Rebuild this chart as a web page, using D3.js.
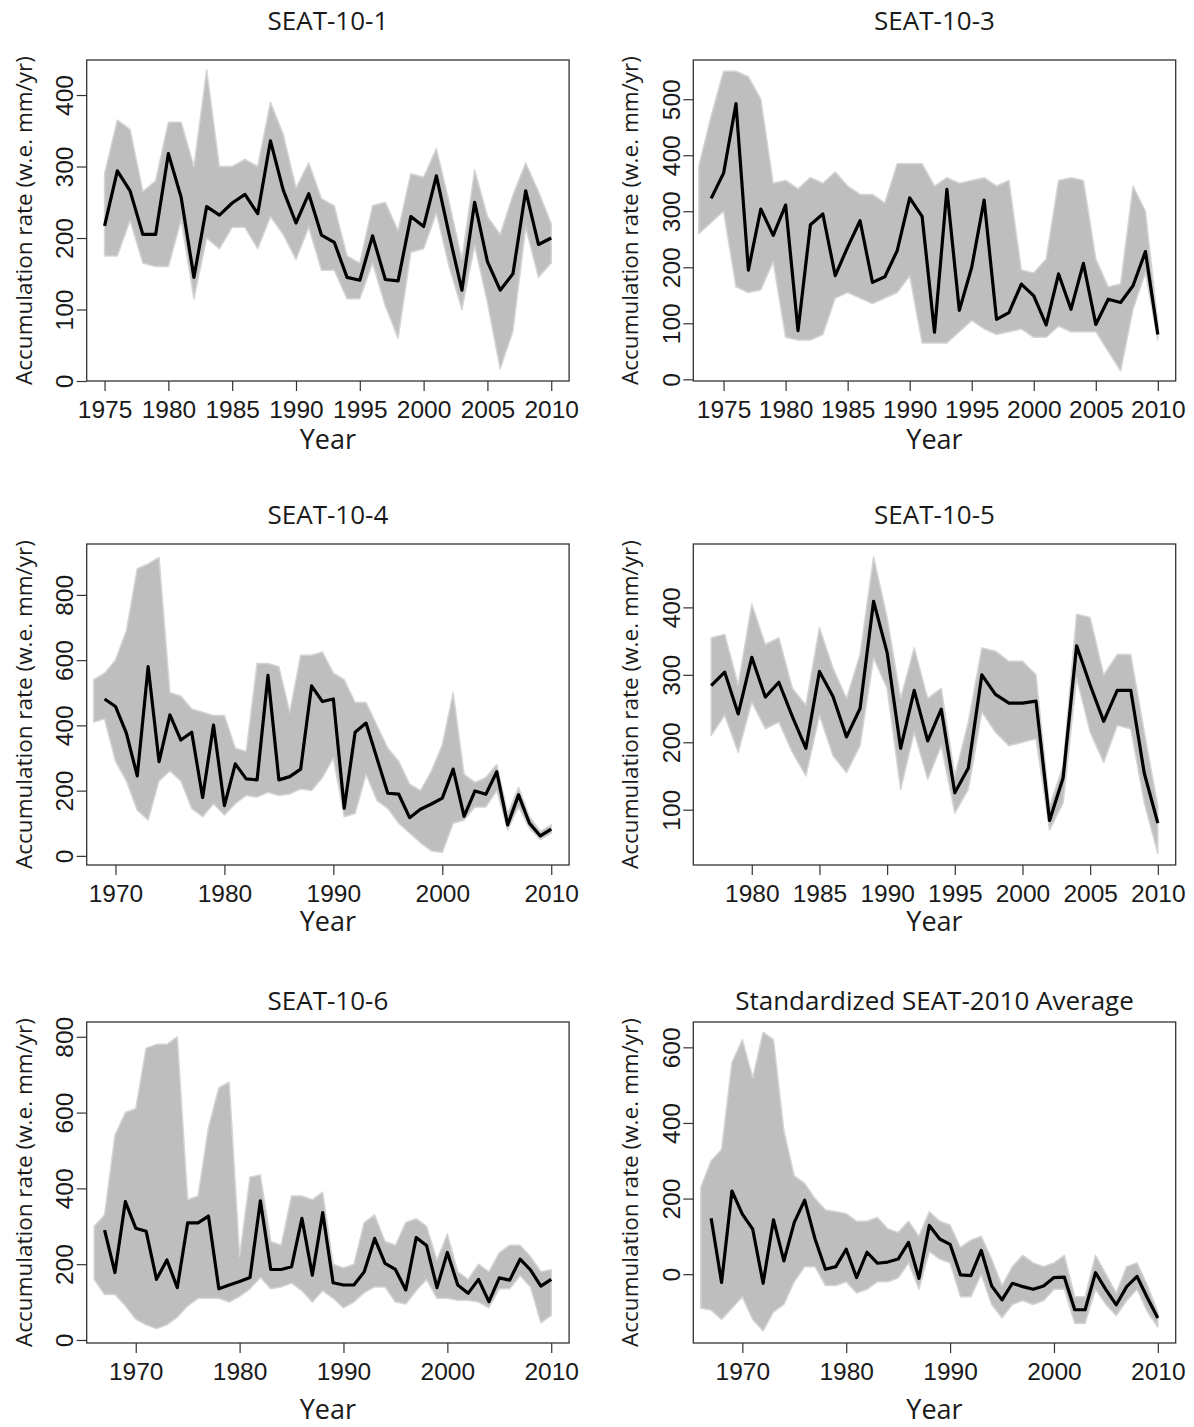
<!DOCTYPE html>
<html>
<head>
<meta charset="utf-8">
<script src="https://cdn.jsdelivr.net/npm/d3@7"></script>
<style>
  body { margin: 0; background: #fff; }
  svg { display: block; }
</style>
</head>
<body>
<svg id="chart" width="1194" height="1427"></svg>
<script>
// ---------------------------------------------------------------
// Accumulation-rate reconstructions, SEAT-2010 cores.
// Black line = ensemble mean; grey band = spread of the age-model
// ensemble (lower / upper envelope for each year).
// ---------------------------------------------------------------

const titles = ["SEAT-10-1", "SEAT-10-3", "SEAT-10-4", "SEAT-10-5", "SEAT-10-6",
                "Standardized SEAT-2010 Average"];

// first year of the mean series, first year of the ensemble envelope
const meanStart = [1975, 1974, 1969, 1977, 1967, 1967];
const bandStart = [1975, 1973, 1968, 1977, 1966, 1966];
const lastYear = 2010;

// SEAT-10-1
const seat1Mean = [217, 294, 266, 205, 205, 318, 257, 145, 244, 232, 249, 261, 234, 336, 267, 221,
                   262, 204, 194, 145, 141, 203, 142, 140, 230, 216, 287, 205, 127, 250, 167, 127,
                   150, 266, 191, 200];
const seat1Lo = [175, 175, 225, 165, 160, 160, 225, 115, 200, 185, 215, 215, 185, 230, 205, 170,
                 215, 155, 155, 115, 115, 165, 105, 60, 180, 185, 235, 160, 100, 190, 110, 17,
                 70, 215, 145, 165];
const seat1Hi = [290, 365, 352, 265, 280, 362, 362, 300, 435, 300, 300, 310, 300, 390, 345, 270,
                 305, 255, 245, 175, 165, 245, 250, 210, 290, 285, 325, 250, 170, 295, 230, 205,
                 260, 305, 265, 220];

// SEAT-10-3
const seat3Mean = [323, 368, 492, 195, 304, 257, 311, 87, 276, 295, 185, 236, 283, 173, 183, 230,
                   324, 291, 84, 339, 123, 200, 320, 107, 119, 170, 149, 97, 188, 125, 207, 98,
                   143, 137, 167, 228, 80];
const seat3Lo = [260, 280, 300, 165, 155, 160, 210, 75, 70, 70, 80, 145, 155, 145, 135, 145,
                 155, 185, 65, 65, 65, 85, 105, 90, 80, 85, 90, 75, 75, 95, 85, 85,
                 85, 50, 15, 125, 190, 70];
const seat3Hi = [380, 470, 550, 550, 540, 500, 350, 355, 340, 360, 350, 370, 345, 330, 330, 315,
                 385, 385, 385, 345, 360, 350, 355, 360, 345, 355, 195, 190, 215, 355, 360, 355,
                 215, 165, 170, 345, 300, 100];

// SEAT-10-4
const seat4Mean = [481, 458, 376, 245, 580, 289, 432, 355, 379, 179, 401, 154, 282, 236, 233, 553,
                   233, 243, 266, 521, 473, 481, 146, 379, 407, 299, 192, 189, 117, 143, 159, 177,
                   266, 121, 199, 189, 258, 95, 187, 100, 61, 82];
const seat4Lo = [410, 420, 290, 230, 140, 110, 230, 260, 230, 145, 120, 160, 125, 160, 185, 180,
                 195, 185, 190, 205, 200, 240, 300, 120, 130, 250, 170, 145, 100, 70, 40, 15,
                 10, 100, 110, 150, 150, 200, 80, 150, 85, 50, 70];
const seat4Hi = [540, 560, 600, 690, 880, 895, 915, 500, 490, 450, 440, 430, 430, 330, 320, 590,
                 590, 580, 440, 615, 615, 625, 560, 540, 470, 470, 400, 330, 290, 220, 200, 260,
                 340, 500, 250, 225, 240, 280, 130, 210, 120, 75, 95];

// SEAT-10-5
const seat5Mean = [284, 304, 242, 326, 267, 289, 238, 191, 305, 268, 208, 250, 409, 333, 191, 277,
                   202, 249, 125, 162, 300, 271, 258, 258, 261, 84, 147, 343, 285, 231, 277, 277,
                   154, 80];
const seat5Lo = [210, 240, 185, 260, 220, 230, 185, 150, 240, 180, 155, 195, 325, 280, 130, 215,
                 145, 195, 95, 130, 245, 215, 195, 200, 205, 70, 110, 295, 215, 170, 225, 220,
                 110, 35];
const seat5Hi = [355, 360, 285, 405, 345, 355, 280, 255, 370, 310, 265, 330, 475, 385, 265, 340,
                 265, 280, 150, 230, 340, 335, 320, 320, 300, 105, 165, 390, 385, 300, 330, 330,
                 215, 105];

// SEAT-10-6
const seat6Mean = [290, 178, 365, 295, 287, 160, 211, 138, 309, 309, 327, 135, 145, 154, 165, 367,
                   186, 186, 193, 321, 171, 336, 151, 145, 145, 180, 268, 202, 186, 132, 270, 249,
                   138, 231, 145, 123, 160, 101, 164, 158, 213, 185, 142, 160];
const seat6Lo = [160, 120, 120, 90, 55, 40, 30, 40, 60, 90, 110, 110, 110, 100, 115, 135,
                 165, 135, 140, 150, 130, 100, 130, 110, 85, 100, 125, 140, 140, 100, 95, 130,
                 160, 110, 110, 105, 105, 100, 85, 135, 135, 170, 140, 45, 65];
const seat6Hi = [300, 330, 540, 600, 610, 770, 780, 780, 800, 370, 380, 560, 665, 680, 220, 430,
                 435, 260, 250, 380, 380, 370, 390, 200, 190, 200, 310, 330, 260, 250, 310, 320,
                 300, 210, 280, 180, 160, 200, 180, 230, 250, 250, 220, 180, 185];

// Standardized SEAT-2010 average
const avgMean = [148, -22, 220, 159, 119, -24, 144, 35, 137, 196, 93, 13, 20, 66, -9, 58,
                 29, 32, 40, 84, -11, 129, 93, 79, -2, -4, 63, -31, -68, -24, -33, -40,
                 -31, -9, -8, -94, -94, 4, -41, -81, -33, -6, -63, -116];
const avgLo = [-90, -95, -120, -90, -60, -120, -150, -100, -80, -20, 20, 20, -30, -30, -20, -50,
               -40, -20, -20, -10, 30, -40, 60, 40, 30, -60, -60, 0, -80, -115, -80, -70,
               -80, -70, -40, -40, -130, -130, -40, -80, -110, -70, -40, -100, -140];
const avgHi = [230, 300, 330, 560, 620, 520, 640, 620, 380, 260, 240, 200, 170, 165, 160, 140,
               140, 150, 120, 110, 140, 100, 165, 140, 130, 70, 90, 100, 40, -30, 20, 50,
               30, 20, 30, 50, -60, -60, 50, 0, -50, 20, 30, -30, -100];

// axis settings
const yDomains = [[0, 449], [-3, 570], [-28, 956], [18, 494], [-8, 839], [-182, 667]];
const xTickSets = [
  [1975, 1980, 1985, 1990, 1995, 2000, 2005, 2010],
  [1975, 1980, 1985, 1990, 1995, 2000, 2005, 2010],
  [1970, 1980, 1990, 2000, 2010],
  [1980, 1985, 1990, 1995, 2000, 2005, 2010],
  [1970, 1980, 1990, 2000, 2010],
  [1970, 1980, 1990, 2000, 2010]
];
const yTickSets = [
  [0, 100, 200, 300, 400],
  [0, 100, 200, 300, 400, 500],
  [0, 200, 400, 600, 800],
  [100, 200, 300, 400],
  [0, 200, 400, 600, 800],
  [0, 200, 400, 600]
];

const means = [seat1Mean, seat3Mean, seat4Mean, seat5Mean, seat6Mean, avgMean];
const lows  = [seat1Lo, seat3Lo, seat4Lo, seat5Lo, seat6Lo, avgLo];
const highs = [seat1Hi, seat3Hi, seat4Hi, seat5Hi, seat6Hi, avgHi];

// ---------------------------------------------------------------
// layout
// ---------------------------------------------------------------
const colX = [86.7, 693.3];
const rowY = [60, 544, 1022];
const plotW = 482.4, plotH = 321;
const titleBase = [30, 524, 1010];
const yearBase = [449, 931, 1419];

const tickFont = "'Liberation Sans', Arial, Helvetica, sans-serif";
const labelFont = "'Open Sans', 'Noto Sans', sans-serif";

const svg = d3.select("#chart");

titles.forEach((title, i) => {
  const col = i % 2, row = Math.floor(i / 2);
  const x0 = colX[col], y0 = rowY[row];

  const meanYears = d3.range(meanStart[i], lastYear + 1);
  const bandYears = d3.range(bandStart[i], lastYear + 1);
  const meanData = meanYears.map((yr, k) => ({ yr, v: means[i][k] }));
  const bandData = bandYears.map((yr, k) => ({ yr, lo: lows[i][k], hi: highs[i][k] }));

  // x range padded 4% either side of the mean series, as in base R plots
  const span = lastYear - meanStart[i];
  const x = d3.scaleLinear()
    .domain([meanStart[i] - 0.04 * span, lastYear + 0.04 * span])
    .range([0, plotW]);
  const y = d3.scaleLinear().domain(yDomains[i]).range([plotH, 0]);

  const g = svg.append("g").attr("transform", `translate(${x0},${y0})`);

  const clipId = "clip" + i;
  g.append("clipPath").attr("id", clipId)
    .append("rect").attr("width", plotW).attr("height", plotH);

  const plot = g.append("g").attr("clip-path", `url(#${clipId})`);

  // ensemble envelope
  plot.append("path")
    .datum(bandData)
    .attr("d", d3.area().x(d => x(d.yr)).y0(d => y(d.lo)).y1(d => y(d.hi)))
    .attr("fill", "#bebebe")
    .attr("stroke", "#d4d4d4")
    .attr("stroke-width", 1.5)
    .attr("stroke-linejoin", "round");

  // ensemble mean
  plot.append("path")
    .datum(meanData)
    .attr("d", d3.line().x(d => x(d.yr)).y(d => y(d.v)))
    .attr("fill", "none")
    .attr("stroke", "#000")
    .attr("stroke-width", 3.2)
    .attr("stroke-linejoin", "round");

  // x axis
  const xa = g.append("g").attr("transform", `translate(0,${plotH})`)
    .call(d3.axisBottom(x).tickValues(xTickSets[i]).tickFormat(d3.format("d"))
      .tickSize(10).tickSizeOuter(0));
  xa.select(".domain").remove();
  xa.selectAll("line").attr("stroke", "#333").attr("stroke-width", 1.2);
  xa.selectAll("text")
    .attr("y", 37).attr("dy", 0)
    .attr("font-family", tickFont).attr("font-size", 24.5).attr("fill", "#1a1a1a");

  // y axis, labels set parallel to the axis
  const ya = g.append("g")
    .call(d3.axisLeft(y).tickValues(yTickSets[i]).tickSize(10).tickSizeOuter(0));
  ya.select(".domain").remove();
  ya.selectAll("line").attr("stroke", "#333").attr("stroke-width", 1.2);
  ya.selectAll("text")
    .attr("transform", "rotate(-90)")
    .attr("x", 0).attr("y", -13.5).attr("dy", 0)
    .attr("text-anchor", "middle")
    .attr("font-family", tickFont).attr("font-size", 24.5).attr("fill", "#1a1a1a");

  // frame
  g.append("rect").attr("width", plotW).attr("height", plotH)
    .attr("fill", "none").attr("stroke", "#333").attr("stroke-width", 1.3);

  // title
  svg.append("text")
    .attr("x", x0 + plotW / 2).attr("y", titleBase[row])
    .attr("text-anchor", "middle")
    .attr("font-family", labelFont).attr("font-size", 26).attr("fill", "#1a1a1a")
    .text(title);

  // x label
  svg.append("text")
    .attr("x", x0 + plotW / 2).attr("y", yearBase[row])
    .attr("text-anchor", "middle")
    .attr("font-family", labelFont).attr("font-size", 27).attr("fill", "#1a1a1a")
    .text("Year");

  // y label
  svg.append("text")
    .attr("transform", `translate(${x0 - 55},${y0 + plotH / 2}) rotate(-90)`)
    .attr("text-anchor", "middle")
    .attr("font-family", labelFont).attr("font-size", 22.5).attr("fill", "#1a1a1a")
    .text("Accumulation rate (w.e. mm/yr)");
});
</script>
</body>
</html>
